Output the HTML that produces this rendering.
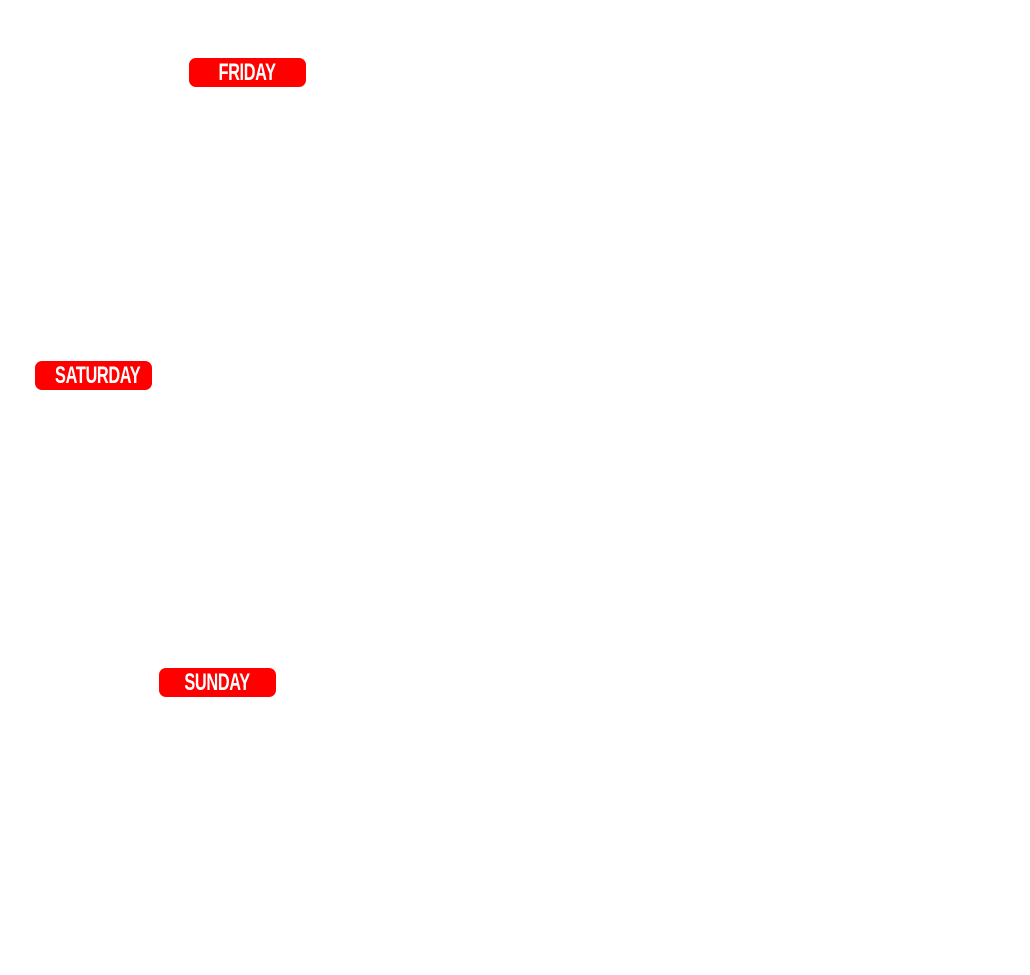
<!DOCTYPE html>
<html><head><meta charset="utf-8"><style>
html,body{margin:0;padding:0;background:#fff;width:1030px;height:975px;overflow:hidden;position:relative}
.p{position:absolute;width:117px;height:29px;background:#ff0000;border-radius:7px;color:#fff;
font-family:"Liberation Sans Narrow","Liberation Sans",sans-serif;font-weight:bold;font-size:24px;line-height:29px;text-align:center}
.p span{display:inline-block;transform:scaleX(0.68);letter-spacing:-0.5px}
</style></head><body>
<div class="p" style="left:189px;top:58px"><span>FRIDAY</span></div>
<div class="p" style="left:35px;top:361px"><span>SATURDAY</span></div>
<div class="p" style="left:159px;top:668px"><span>SUNDAY</span></div>
</body></html>
